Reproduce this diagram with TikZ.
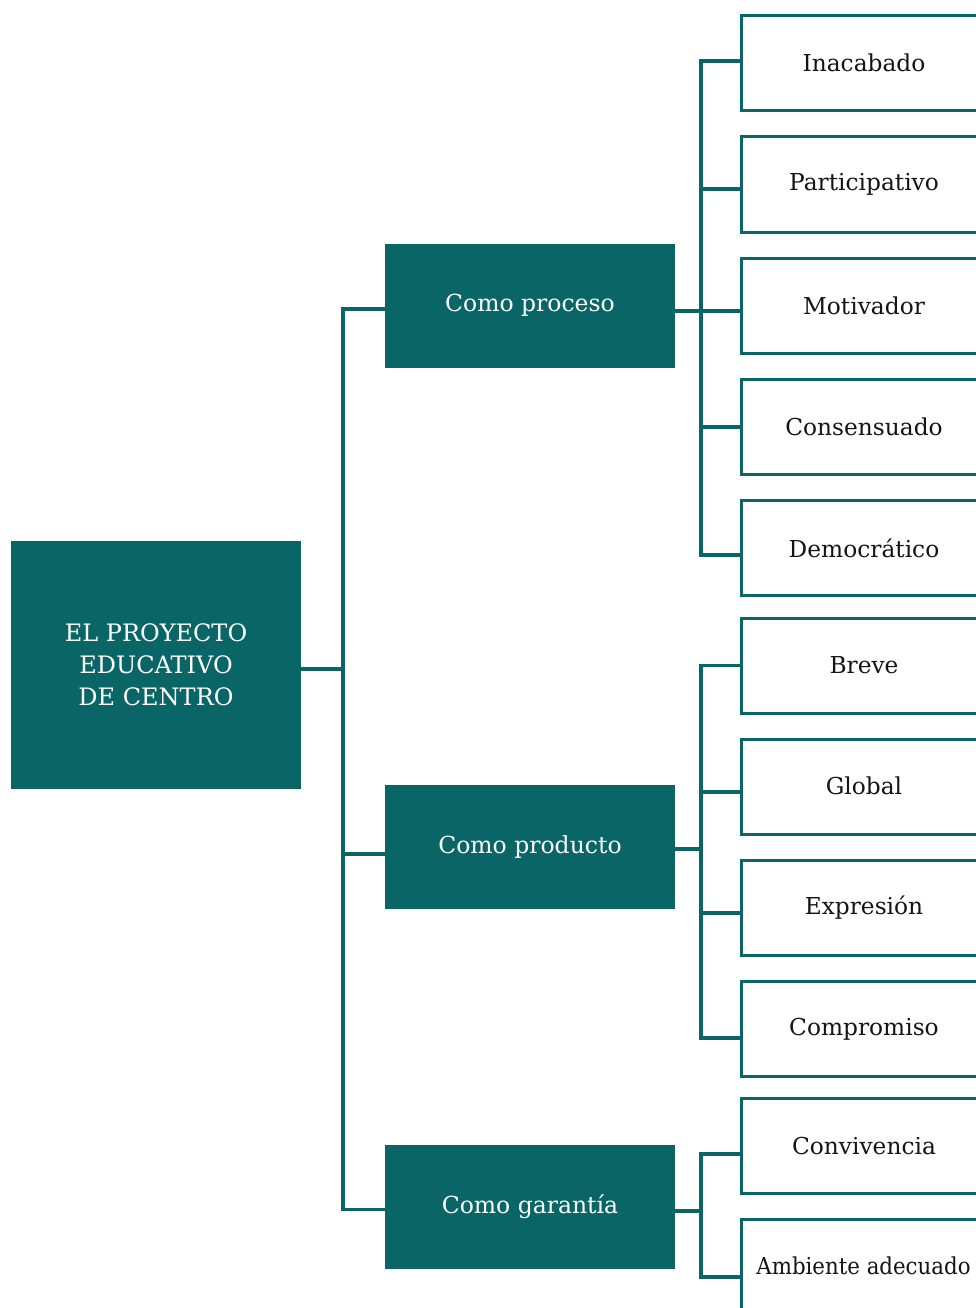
\documentclass[tikz,border=0pt]{standalone}
\usepackage{fontspec}
\setmainfont{DejaVu Serif}
\newfontfamily\narrowserif[FakeStretch=0.915]{DejaVu Serif}
\definecolor{teal1}{RGB}{10,102,102}
\definecolor{txt}{RGB}{20,20,20}
\begin{document}
\begin{tikzpicture}[x=1pt,y=1pt,
  mainbox/.style={fill=teal1,text=white,minimum width=290pt,minimum height=248pt,inner sep=0pt,align=center,font=\fontsize{24}{32}\selectfont},
  midbox/.style={fill=teal1,text=white,minimum width=290pt,minimum height=124pt,inner sep=0pt,font=\fontsize{23.5}{28}\selectfont},
  leaf/.style={draw=teal1,line width=3pt,fill=white,minimum width=249pt,minimum height=95pt,inner sep=0pt},
  leaftext/.style={text=txt,font=\fontsize{23.3}{28}\selectfont},
  link/.style={draw=teal1,line width=3.5pt}]
\useasboundingbox (0,0) rectangle (976,-1308);
\node[mainbox] (main) at (156,-665) {EL PROYECTO\\EDUCATIVO\\DE CENTRO};
\node[midbox] (proceso) at (530,-305.5) {Como proceso};
\node[midbox] (producto) at (530,-847) {Como producto};
\node[midbox] (garantia) at (530,-1206.5) {Como garantía};
\begin{scope}
\clip (0,0) rectangle (976,-1308);
\node[leaf] (r1) at (865.5,-63.5) {};
\node[leaf] (r2) at (865.5,-184.5) {};
\node[leaf] (r3) at (865.5,-305.5) {};
\node[leaf] (r4) at (865.5,-426.5) {};
\node[leaf] (r5) at (865.5,-547.5) {};
\node[leaf] (r6) at (865.5,-665.5) {};
\node[leaf] (r7) at (865.5,-786.5) {};
\node[leaf] (r8) at (865.5,-907.5) {};
\node[leaf] (r9) at (865.5,-1028.5) {};
\node[leaf] (r10) at (865.5,-1145.5) {};
\node[leaf] (r11) at (865.5,-1266.5) {};
\end{scope}
\node[leaftext] (t1) at (864,-63) {Inacabado};
\node[leaftext] (t2) at (864,-184) {Participativo};
\node[leaftext] (t3) at (864,-306) {Motivador};
\node[leaftext] (t4) at (864,-427) {Consensuado};
\node[leaftext] (t5) at (864,-548) {Democrático};
\node[leaftext] (t6) at (864,-665) {Breve};
\node[leaftext] (t7) at (864,-786) {Global};
\node[leaftext] (t8) at (864,-908) {Expresión};
\node[leaftext] (t9) at (864,-1029) {Compromiso};
\node[leaftext] (t10) at (864,-1146) {Convivencia};
\node[leaftext,font=\narrowserif\fontsize{23.3}{28}\selectfont] (t11) at (863.5,-1266) {Ambiente adecuado};
% trunk
\draw[link] ([yshift=-4pt]main.east) -- ++(42,0) coordinate (t);
\draw[link] ([yshift=-3.5pt]proceso.west) -| (t);
\draw[link] ([yshift=-3pt]garantia.west) -| (t);
\draw[link] ([yshift=-7pt]producto.west) -- ([yshift=-7pt]producto.west -| t);
% group 1
\draw[link] ([yshift=-5.5pt]proceso.east) -- ++(26,0) coordinate (j1);
\draw[link] ([yshift=2.5pt]r1.west) -| (j1);
\draw[link] ([yshift=-7.5pt]r5.west) -| (j1);
\draw[link] ([yshift=-4.5pt]r2.west) -- ([yshift=-4.5pt]r2.west -| j1);
\draw[link] ([yshift=-5.5pt]r3.west) -- ([yshift=-5.5pt]r3.west -| j1);
\draw[link] ([yshift=-0.5pt]r4.west) -- ([yshift=-0.5pt]r4.west -| j1);
% group 2
\draw[link] ([yshift=-2pt]producto.east) -- ++(26,0) coordinate (j2);
\draw[link] (r6.west) -| (j2);
\draw[link] ([yshift=-9.5pt]r9.west) -| (j2);
\draw[link] ([yshift=-5.5pt]r7.west) -- ([yshift=-5.5pt]r7.west -| j2);
\draw[link] ([yshift=-5.5pt]r8.west) -- ([yshift=-5.5pt]r8.west -| j2);
% group 3
\draw[link] ([yshift=-4.5pt]garantia.east) -- ++(26,0) coordinate (j3);
\draw[link] ([yshift=-8.5pt]r10.west) -| (j3);
\draw[link] ([yshift=-10.5pt]r11.west) -| (j3);
\end{tikzpicture}
\end{document}
